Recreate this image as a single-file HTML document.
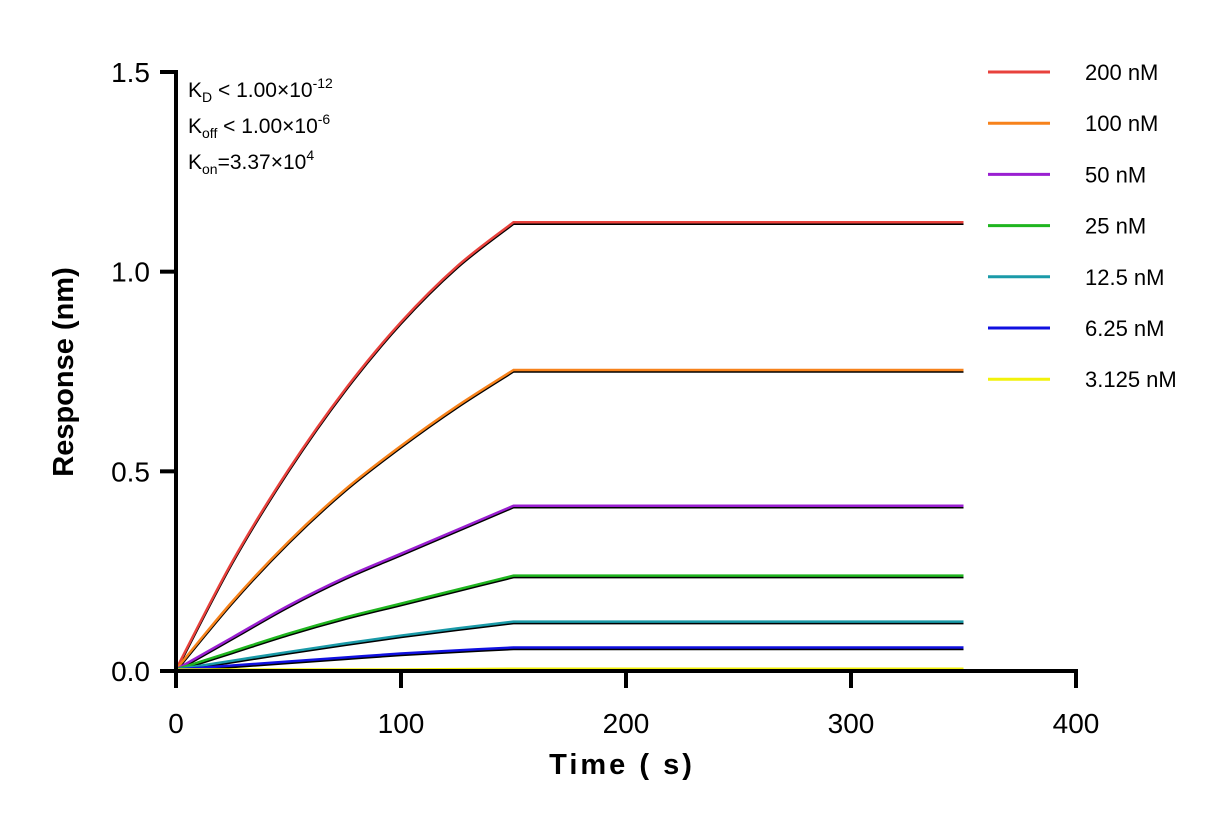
<!DOCTYPE html>
<html><head><meta charset="utf-8"><style>
body{margin:0;background:#fff;font-family:"Liberation Sans","Noto Sans CJK SC",sans-serif}
svg text{font-family:"Liberation Sans","Noto Sans CJK SC",sans-serif}
</style></head><body>
<svg id="chart" width="1232" height="825" xmlns="http://www.w3.org/2000/svg">
<g id="series"></g>
<g id="axes"></g>
<g id="legend"></g>
<g font-size="21" fill="#000">
<text x="188" y="97">K<tspan font-size="14" dy="5">D</tspan><tspan dy="-5"> &lt; 1.00×10</tspan><tspan font-size="14" dy="-9">-12</tspan></text>
<text x="188" y="133">K<tspan font-size="14" dy="5">off</tspan><tspan dy="-5"> &lt; 1.00×10</tspan><tspan font-size="14" dy="-9">-6</tspan></text>
<text x="188" y="169">K<tspan font-size="14" dy="5">on</tspan><tspan dy="-5">=3.37×10</tspan><tspan font-size="14" dy="-9">4</tspan></text>
</g>
</svg>
<script>
const labels=["200 nM","100 nM","50 nM","25 nM","12.5 nM","6.25 nM","3.125 nM"];
const colors=["#e8413c","#f7821b","#9a1fd1","#1fb51f","#1a9aa8","#1010e0","#f2f20a"];
const assocTimes=[0,25,50,75,100,125,150];
const s200=[0,0.27,0.50,0.70,0.87,1.01,1.12];
const s100=[0,0.17,0.32,0.45,0.56,0.66,0.75];
const s50=[0,0.08,0.16,0.23,0.29,0.35,0.41];
const s25=[0,0.045,0.09,0.13,0.165,0.20,0.235];
const s12=[0,0.022,0.044,0.065,0.085,0.103,0.12];
const s6=[0,0.01,0.02,0.03,0.04,0.048,0.055];
const s3=[0,0,0,0,0,0.001,0.002];
const endTime=350;
const xTicks=[0,100,200,300,400];
const yTicks=["0.0","0.5","1.0","1.5"];
const series=[s200,s100,s50,s25,s12,s6,s3];
const NS="http://www.w3.org/2000/svg";
const X=t=>176+t*900/400, Y=v=>671-v*599/1.5;
function mk(tag,attrs,parent){const e=document.createElementNS(NS,tag);for(const k in attrs)e.setAttribute(k,attrs[k]);parent.appendChild(e);return e;}
function pathFor(vals,dy){
  const p=assocTimes.map((t,i)=>[X(t),Y(vals[i])+dy]);
  let d="M"+p[0][0]+","+p[0][1];
  for(let i=0;i<p.length-1;i++){
    const p0=p[Math.max(0,i-1)],p1=p[i],p2=p[i+1],p3=p[Math.min(p.length-1,i+2)];
    const c1=[p1[0]+(p2[0]-p0[0])/6,p1[1]+(p2[1]-p0[1])/6];
    const c2=[p2[0]-(p3[0]-p1[0])/6,p2[1]-(p3[1]-p1[1])/6];
    d+=` C${c1[0]},${c1[1]} ${c2[0]},${c2[1]} ${p2[0]},${p2[1]}`;
  }
  d+=` L${X(endTime)},${Y(vals[vals.length-1])+dy}`;
  return d;
}
const sg=document.getElementById("series");
series.forEach((vals,i)=>{
  const e=mk("path",{d:pathFor(vals,0),fill:"none",stroke:"#000","stroke-width":2.5},sg);
  
  
});
series.forEach((vals,i)=>{
  const e=mk("path",{d:pathFor(vals,-1.5),fill:"none",stroke:colors[i],"stroke-width":2.5},sg);
  
  
});
const ag=document.getElementById("axes");
let e=mk("line",{x1:174,y1:671,x2:1078,y2:671,stroke:"#000","stroke-width":4},ag);


e=mk("line",{x1:176,y1:70,x2:176,y2:673,stroke:"#000","stroke-width":4},ag);


xTicks.forEach(t=>{
  mk("line",{x1:X(t),y1:671,x2:X(t),y2:688,stroke:"#000","stroke-width":4},ag);
  const tx=mk("text",{x:X(t),y:733,"text-anchor":"middle","font-size":28},ag);tx.textContent=t;
  
  
});
yTicks.forEach(t=>{
  const v=parseFloat(t);
  mk("line",{x1:160,y1:Y(v),x2:176,y2:Y(v),stroke:"#000","stroke-width":4},ag);
  const tx=mk("text",{x:150,y:Y(v)+10,"text-anchor":"end","font-size":28},ag);tx.textContent=t;
  
  
});
e=mk("text",{x:622,y:774,"text-anchor":"middle","font-size":29,"font-weight":"bold","letter-spacing":"3"},ag);
e.textContent="Time ( s)";


e=mk("text",{x:0,y:0,"text-anchor":"middle","font-size":29,"font-weight":"bold",transform:"translate(73,372) rotate(-90)"},ag);
e.textContent="Response (nm)";


const lg=document.getElementById("legend");
labels.forEach((l,i)=>{
  const y=72+i*51.2;
  const ln=mk("line",{x1:988,y1:y,x2:1050,y2:y,stroke:colors[i],"stroke-width":3},lg);
  
  
  const tx=mk("text",{x:1085,y:y+8,"font-size":22},lg);tx.textContent=l;
  
  
});
</script>
</body></html>
